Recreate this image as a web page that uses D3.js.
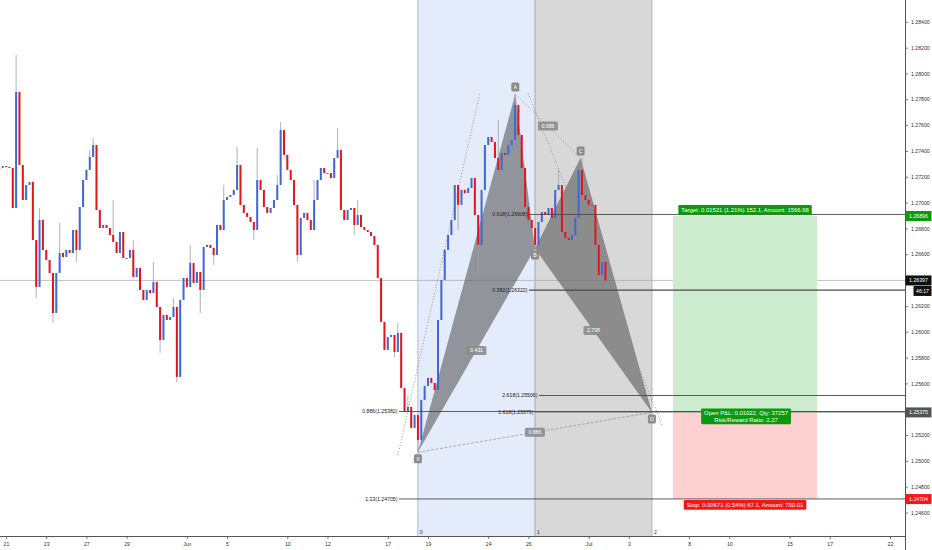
<!DOCTYPE html>
<html><head><meta charset="utf-8">
<script src="https://cdn.jsdelivr.net/npm/d3@7"></script>
<style>body{margin:0;background:#fff;} svg{display:block;font-family:"Liberation Sans",Arial,sans-serif;}</style>
</head><body><svg id="c" width="932" height="550"></svg>
<script>
// ---- data ----
const closes = [
1.27268,1.27283,1.27276,1.27268,1.26958,1.27856,1.27291,1.27020,1.27136,1.27160,
1.26710,1.26347,1.26865,1.26633,1.26556,1.26455,1.26145,1.26455,1.26610,1.26579,
1.26633,1.26610,1.26788,1.26633,1.26966,1.27175,1.27253,1.27353,1.27446,1.26943,
1.26803,1.26827,1.26803,1.26749,1.26695,1.26610,1.26772,1.26571,1.26571,1.26633,
1.26424,1.26494,1.26323,1.26246,1.26323,1.26300,1.26385,1.26192,1.25936,1.26130,
1.26091,1.26114,1.26192,1.25650,1.26246,1.26416,1.26347,1.26532,1.26378,1.26463,
1.26323,1.26656,1.26672,1.26649,1.26594,1.26827,1.26788,1.27020,1.27043,1.27059,
1.27098,1.27291,1.26982,1.26920,1.26889,1.26850,1.26788,1.27175,1.27098,1.26966,
1.26920,1.26958,1.27020,1.27136,1.27562,1.27369,1.27253,1.27175,1.26982,1.26594,
1.26881,1.26920,1.26865,1.26788,1.27020,1.27175,1.27268,1.27229,1.27229,1.27191,
1.27345,1.27407,1.26943,1.26865,1.26943,1.26958,1.26827,1.26904,1.26811,1.26788,
1.26772,1.26741,1.26672,1.26416,1.26076,1.25859,1.25959,1.25975,1.25843,1.25990,
1.25564,1.25379,1.25417,1.25255,1.25355,1.25162,1.25472,1.25580,1.25642,1.25603,
1.25549,1.26091,1.26401,1.26633,1.26749,1.26865,1.27136,1.26982,1.27098,1.27074,
1.27113,1.27191,1.26904,1.26672,1.27098,1.27446,1.27508,1.27469,1.27345,1.27253,
1.27384,1.27369,1.27446,1.27485,1.27756,1.27524,1.27268,1.26966,1.26865,1.26803,
1.26672,1.26850,1.26927,1.26904,1.26958,1.26881,1.27098,1.27136,1.26772,1.26726,
1.26710,1.26749,1.26881,1.27253,1.27059,1.27020,1.26982,1.26982,1.26672,1.26439,
1.26540,1.26397];
const highIdx  = [5,12,18,27,28,34,40,46,52,57,67,71,77,83,84,94,101,107,119,122,149,154,167,174];
const highVals = [1.28143,1.26958,1.26842,1.27407,1.27500,1.27020,1.26710,1.26540,1.26261,1.26672,1.27136,1.27431,1.27423,1.27214,1.27624,1.27175,1.27578,1.27020,1.26068,1.25510,1.27640,1.27840,1.27253,1.27345];
const lowIdx   = [11,16,23,48,53,60,64,76,89,106,118,125,130,137,143,160];
const lowVals  = [1.26261,1.26068,1.26540,1.25836,1.25611,1.26145,1.26517,1.26710,1.26540,1.26749,1.25805,1.25066,1.25495,1.26788,1.26455,1.26644];
const firstBarDay = -0.33, barsPerDay = 6;

const dateTickDays   = [0,2,4,6,9,11,14,16,19,21,24,26,29,31,34,36,39,41,44];
const dateTickLabels = ['21','23','27','29','Jun','5','10','12','17','19','24','26','Jul','3','8','10','15','17','22'];
const priceTicks = [1.246,1.248,1.250,1.252,1.256,1.258,1.260,1.262,1.266,1.268,1.270,1.272,1.274,1.276,1.278,1.280,1.282,1.284];

const patternNames  = ['X','A','B','C','D'];
const patternDays   = [20.5, 25.35, 26.33, 28.6, 32.15];
const patternPrices = [1.25066, 1.27840, 1.26644, 1.27345, 1.25375];
const ratioPairs  = [[0,2],[1,3],[2,4],[0,4]];
const ratioLabels = ['0.431','0.586','2.798','0.886'];

const levelLabels    = ['0.886(1.25382)','1.13(1.24705)','2.618(1.25506)','1.618(1.25379)','0.618(1.26908)','0.382(1.26322)'];
const levelPrices    = [1.25382, 1.24705, 1.25506, 1.25379, 1.26908, 1.26322];
const levelStartDays = [19.56, 19.56, 26.53, 26.33, 26.03, 26.03];

const zoneDays   = [20.5, 26.33, 32.15];
const zoneLabels = ['0','1','2'];
const trendLines = [[19.51,1.25046,23.59,1.27849],[25.98,1.27849,32.65,1.25278]];

const posStartDay = 33.2, posEndDay = 40.37;
const posEntry = 1.25375, posTarget = 1.26896, posStop = 1.24704;
const targetText = 'Target: 0.01521 (1.21%) 152.1, Amount: 1566.68';
const entryTexts = ['Open P&L: 0.01022, Qty: 37257','Risk/Reward Ratio: 2.27'];
const stopText   = 'Stop: 0.00671 (0.54%) 67.1, Amount: 750.01';
const lastPrice = 1.26397, countdown = '46:17';

// ---- layout ----
const W = 932, H = 550, plotR = 905, plotB = 536;
const x = d3.scaleLinear().domain([0,44]).range([6,890]);
const y = d3.scaleLinear().domain([1.246,1.284]).range([512.5,21.8]);
const svg = d3.select('#c');
const fs = 5.2, fsPos = 5.9;
svg.append('rect').attr('width',W).attr('height',H).attr('fill','#fff');

// time zones
const zoneFills = ['#e4ebfa','#d9d8d9'];
for (let k=0;k<2;k++){
  svg.append('rect').attr('x',x(zoneDays[k])).attr('y',0)
    .attr('width',x(zoneDays[k+1])-x(zoneDays[k])).attr('height',plotB).attr('fill',zoneFills[k]);
}
const zoneLineCols = ['#a9bde8','#a8a8a8','#b5b5b5'];
zoneDays.forEach((d,k)=>{
  svg.append('line').attr('x1',x(d)).attr('x2',x(d)).attr('y1',0).attr('y2',plotB)
    .attr('stroke',zoneLineCols[k]).attr('stroke-width',1);
  svg.append('text').attr('x',x(d)+2).attr('y',plotB-2).attr('font-size',fs).attr('fill','#333').text(zoneLabels[k]);
});

// last price line
svg.append('line').attr('x1',0).attr('x2',plotR).attr('y1',y(lastPrice)).attr('y2',y(lastPrice))
  .attr('stroke','#b3b3b3').attr('stroke-width',0.8);

// position boxes
const px0 = x(posStartDay), px1 = x(posEndDay);
svg.append('rect').attr('x',px0).attr('width',px1-px0).attr('y',y(posTarget)).attr('height',y(posEntry)-y(posTarget)).attr('fill','#cdeccf');
svg.append('rect').attr('x',px0).attr('width',px1-px0).attr('y',y(posEntry)).attr('height',y(posStop)-y(posEntry)).attr('fill','#fdd1d1');

// pattern triangles
const P = patternNames.map((n,i)=>[x(patternDays[i]), y(patternPrices[i])]);
[[0,1,2],[2,3,4]].forEach(t=>{
  svg.append('path').attr('d','M'+t.map(k=>P[k].join(',')).join('L')+'Z')
    .attr('fill','#5a5a5a').attr('fill-opacity',0.6).attr('stroke','none');
});

// trend dotted lines
trendLines.forEach(t=>{
  svg.append('line').attr('x1',x(t[0])).attr('y1',y(t[1])).attr('x2',x(t[2])).attr('y2',y(t[3]))
    .attr('stroke','#8a8a8a').attr('stroke-width',0.9).attr('stroke-dasharray','1,2');
});
// pattern connector lines (A-C, X-D)
[[1,3],[0,4]].forEach((pr,j)=>{
  svg.append('line').attr('x1',P[pr[0]][0]).attr('y1',P[pr[0]][1]).attr('x2',P[pr[1]][0]).attr('y2',P[pr[1]][1])
    .attr('stroke','#9a9a9a').attr('stroke-width',0.8).attr('stroke-dasharray', j===0?'1.5,2':'3,1.5');
});

// candles
const bars = closes.map((c,i)=>{
  const o = i ? closes[i-1] : c;
  return {day: firstBarDay + i/barsPerDay, open:o, close:c, high:Math.max(o,c), low:Math.min(o,c)};
});
highIdx.forEach((k,j)=>{ bars[k].high = highVals[j]; });
lowIdx.forEach((k,j)=>{ bars[k].low = lowVals[j]; });
const gC = svg.append('g');
gC.selectAll('line.w').data(bars).enter().append('line')
  .attr('x1',d=>x(d.day)).attr('x2',d=>x(d.day)).attr('y1',d=>y(d.high)).attr('y2',d=>y(d.low))
  .attr('stroke','#a0a0a0').attr('stroke-width',0.8);
gC.selectAll('rect.b').data(bars).enter().append('rect')
  .attr('x',d=>x(d.day)-1).attr('width',2)
  .attr('y',d=>y(Math.max(d.open,d.close))).attr('height',d=>Math.max(1,Math.abs(y(d.open)-y(d.close))))
  .attr('fill',d=>d.close>=d.open?'#4067d6':'#e2141c');

// level lines + labels
levelPrices.forEach((p,k)=>{
  const lx = x(levelStartDays[k]);
  svg.append('line').attr('x1',lx).attr('x2',plotR).attr('y1',y(p)).attr('y2',y(p))
    .attr('stroke','#4a4a4a').attr('stroke-width', k===5?1.4:0.9);
  svg.append('text').attr('x',lx-1.5).attr('y',y(p)).attr('dy','0.35em').attr('text-anchor','end')
    .attr('font-size',fs).attr('fill','#222').text(levelLabels[k]);
});

// ratio labels
ratioPairs.forEach((pr,k)=>{
  const mx = (P[pr[0]][0]+P[pr[1]][0])/2, my = (P[pr[0]][1]+P[pr[1]][1])/2;
  svg.append('rect').attr('x',mx-10).attr('y',my-4.5).attr('width',20).attr('height',9).attr('rx',1.5)
    .attr('fill','#8c8c8c').attr('fill-opacity',0.9);
  svg.append('text').attr('x',mx).attr('y',my).attr('dy','0.35em').attr('text-anchor','middle')
    .attr('font-size',fs).attr('fill','#fff').text(ratioLabels[k]);
});
// point labels
const above = [false,true,false,true,false];
P.forEach((pt,k)=>{
  const cy = pt[1] + (above[k]? -7 : 6.5);
  svg.append('rect').attr('x',pt[0]-4).attr('y',cy-4.5).attr('width',8).attr('height',9).attr('rx',1.5)
    .attr('fill','#8c8c8c');
  svg.append('text').attr('x',pt[0]).attr('y',cy).attr('dy','0.35em').attr('text-anchor','middle')
    .attr('font-size',fs).attr('fill','#fff').text(patternNames[k]);
});

// position labels
function boxLabel(lines, cx, top, fill){
  const g = svg.append('g');
  const r = g.append('rect').attr('rx',1.2).attr('fill',fill);
  const ts = lines.map((s,i)=>g.append('text').attr('x',cx).attr('y',top+7+i*6.2).attr('text-anchor','middle')
    .attr('font-size',fsPos).attr('fill','#fff').text(s));
  const wmax = d3.max(ts, t=>t.node().getComputedTextLength());
  r.attr('x',cx-wmax/2-3).attr('y',top).attr('width',wmax+6).attr('height',3.5+lines.length*6.2);
}
const pcx = (px0+px1)/2;
boxLabel([targetText], pcx, y(posTarget)-11, '#0b9a0b');
boxLabel(entryTexts, pcx+1, y(posEntry)-4, '#0b9a0b');
boxLabel([stopText], pcx, y(posStop)+1, '#f21818');

// axes
svg.append('rect').attr('x',plotR).attr('y',0).attr('width',W-plotR).attr('height',H).attr('fill','#fff');
svg.append('rect').attr('x',0).attr('y',plotB).attr('width',plotR).attr('height',H-plotB).attr('fill','#fff');
const ay = svg.append('g').attr('transform',`translate(${plotR},0)`)
  .call(d3.axisRight(y).tickValues(priceTicks).tickFormat(d3.format('.5f')).tickSize(3).tickPadding(3));
const ax = svg.append('g').attr('transform',`translate(0,${plotB})`)
  .call(d3.axisBottom(x).tickValues(dateTickDays).tickFormat((d,i)=>dateTickLabels[i]).tickSize(3).tickPadding(3));
[ay,ax].forEach(a=>{
  a.select('.domain').remove();
  a.selectAll('text').attr('font-size',fs).attr('fill','#333').attr('font-family','"Liberation Sans",Arial,sans-serif');
  a.selectAll('line').attr('stroke','#777');
});
svg.append('line').attr('x1',plotR+0.5).attr('x2',plotR+0.5).attr('y1',0).attr('y2',H).attr('stroke','#555');
svg.append('line').attr('x1',0).attr('x2',plotR).attr('y1',plotB+0.5).attr('y2',plotB+0.5).attr('stroke','#555');

// axis price labels
function axisTag(price, txt, fill, dyOff, wid){
  const cy = y(price) + (dyOff||0);
  const w = wid||26;
  svg.append('rect').attr('x',W-w-0.5).attr('y',cy-5).attr('width',w).attr('height',10).attr('fill',fill);
  svg.append('text').attr('x',W-w/2-0.5).attr('y',cy).attr('dy','0.35em').attr('text-anchor','middle')
    .attr('font-size',fs).attr('fill','#fff').text(txt);
}
axisTag(posTarget, d3.format('.5f')(posTarget), '#0b9a0b');
axisTag(lastPrice, d3.format('.5f')(lastPrice), '#111');
axisTag(lastPrice, countdown, '#111', 10.5, 18);
axisTag(posEntry, d3.format('.5f')(posEntry), '#555');
axisTag(posStop, d3.format('.5f')(posStop), '#f21818');
</script></body></html>
